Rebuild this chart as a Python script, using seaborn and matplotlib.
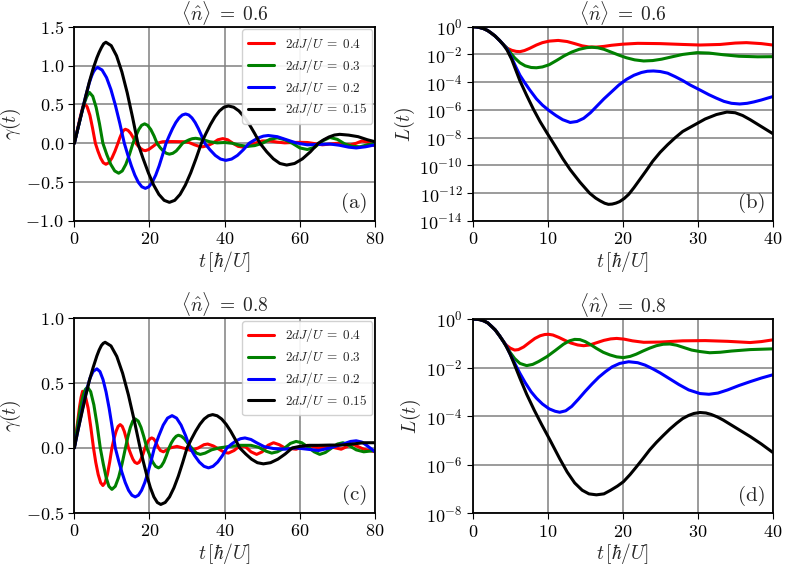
import matplotlib
matplotlib.use("Agg")
import matplotlib.pyplot as plt
import seaborn as sns
import numpy as np
import pandas as pd

# couplings 2dJ/U, same order as the curves below
couplings = ["0.4", "0.3", "0.2", "0.15"]
colors = ["red", "green", "blue", "black"]

# ---- panel (a): gamma(t), <n> = 0.6 ----
t_a_04 = [0, 0.7, 1.4, 2.0, 2.35, 2.7, 3.4, 4.15, 4.85, 5.6, 6.3, 7.0, 7.7, 8.4, 9.2, 10.0, 10.8, 11.6, 12.1, 12.6, 13.1, 13.6,
          14.3, 15.0, 15.7, 16.4, 17.0, 17.65, 18.3, 18.9, 19.8, 20.8, 22, 23.5, 26, 29, 30.5, 32, 33.2, 34.2, 35.5, 36.8,
          38.2, 39.5, 40.8, 42.2, 43.6, 45, 46.3, 48, 50, 52, 54, 56, 58, 60, 62, 64, 66, 68, 70, 72, 73.5, 75, 76.5, 78, 80]
g_a_04 = [0, 0.15, 0.3, 0.42, 0.48, 0.51, 0.47, 0.36, 0.195, 0, -0.103, -0.19, -0.25, -0.27, -0.25, -0.19, -0.103, 0, 0.069, 0.127, 0.166, 0.18,
          0.166, 0.127, 0.069, 0, -0.036, -0.067, -0.088, -0.095, -0.08, -0.045, 0.0, 0.02, 0.022, 0.02, 0.01, -0.02, -0.04, -0.045, -0.03, 0.0,
          0.045, 0.06, 0.045, 0.0, -0.04, -0.05, -0.035, 0.0, 0.03, 0.03, 0.015, 0.005, 0.01, 0.012, 0.01, -0.005, -0.02, -0.01, 0.0, -0.015, -0.02, 0.0, 0.03, 0.015, -0.035]
t_a_03 = [0, 1, 2, 2.7, 3.3, 4.0, 4.9, 5.8, 6.7, 7.6, 8.65, 9.7, 10.75, 11.8, 12.75, 13.7, 14.65, 15.6, 16.4, 17.15, 17.9, 18.7,
          19.5, 20.35, 21.2, 22, 22.8, 23.65, 24.5, 25.3, 26.2, 27.1, 27.9, 28.8, 29.7, 30.55, 31.4, 32.3, 34, 36, 38, 40, 42,
          44, 46, 48, 50, 52, 54, 56, 58, 60, 62, 64, 66, 68, 70, 72, 74, 76, 78, 80]
g_a_03 = [0, 0.2, 0.4, 0.52, 0.6, 0.655, 0.605, 0.463, 0.25, 0, -0.147, -0.272, -0.356, -0.385, -0.356, -0.272, -0.147, 0, 0.095, 0.177, 0.231, 0.25,
          0.231, 0.177, 0.095, 0, -0.054, -0.099, -0.129, -0.14, -0.129, -0.099, -0.054, 0, 0.025, 0.045, 0.059, 0.064, 0.05, 0.02, 0.005, 0.01, 0.0,
          -0.025, -0.04, -0.03, 0.0, 0.05, 0.07, 0.045, 0.0, -0.06, -0.08, -0.05, 0.03, 0.075, 0.05, -0.01, -0.04, -0.045, -0.02, 0.0]
t_a_02 = [0, 1, 2, 3, 4, 4.6, 5.1, 5.6, 6.2, 7.38, 8.57, 9.75, 10.93, 12.12, 13.3, 14.23, 15.17, 16.1, 17.03, 17.97, 18.9,
          19.82, 20.73, 21.65, 22.57, 23.48, 24.4, 25.27, 26.13, 27.0, 27.87, 28.73, 29.6, 30.45, 31.3, 32.15, 33.0, 33.85, 34.7,
          36.1, 37.5, 38.9, 40.3, 41.85, 43.4, 44.95, 46.5, 47.8, 49.05, 50.3, 51.6, 54, 56.5, 59, 62, 65, 68, 70.5, 73, 75, 77.5, 80]
g_a_02 = [0, 0.2, 0.4, 0.6, 0.78, 0.865, 0.92, 0.955, 0.976, 0.943, 0.845, 0.69, 0.488, 0.253, 0, -0.15, -0.29, -0.41, -0.502, -0.56, -0.58,
          -0.56, -0.502, -0.41, -0.29, -0.15, 0, 0.098, 0.189, 0.267, 0.326, 0.364, 0.377, 0.364, 0.326, 0.267, 0.189, 0.098, 0,
          -0.084, -0.156, -0.203, -0.22, -0.203, -0.156, -0.084, 0, 0.038, 0.071, 0.092, 0.1, 0.085, 0.045, 0.005, -0.02, -0.015, -0.01, -0.025,
          -0.05, -0.06, -0.045, -0.02]
t_a_015 = [0, 1, 2, 3, 4, 5, 6, 6.6, 7.2, 7.8, 8.4, 9.82, 11.23, 12.65, 14.07, 15.48, 16.9, 18.3, 19.7, 21.1, 22.5, 23.9, 25.3,
           26.72, 28.13, 29.55, 30.97, 32.38, 33.8, 35, 36.2, 37.4, 38.6, 39.8, 41, 42.4, 43.8, 45.2, 46.6, 48, 49.4,
           51.2, 52.95, 54.7, 56.5, 58.6, 60.7, 62.8, 64.9, 66.3, 67.75, 69.2, 70.6, 73, 75.5, 78, 80]
g_a_015 = [0, 0.2, 0.4, 0.6, 0.79, 0.96, 1.1, 1.17, 1.23, 1.28, 1.30, 1.256, 1.126, 0.919, 0.65, 0.337, 0, -0.197, -0.38, -0.537, -0.658, -0.734, -0.76,
           -0.734, -0.658, -0.537, -0.38, -0.197, 0, 0.124, 0.24, 0.339, 0.416, 0.464, 0.48, 0.464, 0.416, 0.339, 0.24, 0.124, 0,
           -0.11, -0.2, -0.26, -0.28, -0.26, -0.2, -0.11, 0, 0.044, 0.081, 0.106, 0.115, 0.105, 0.085, 0.045, 0.02]

# ---- panel (b): log10 L(t), <n> = 0.6 ----
t_b_04 = [0, 0.5, 1, 1.5, 2, 2.5, 3, 3.6, 4.1, 4.6, 5.2, 5.8, 6.3, 6.9, 7.6, 8.5, 9.3, 10.2, 11.4, 12.6, 13.6, 14.6, 15.5, 16.5,
          17.5, 18.5, 20, 22, 25, 28, 30.3, 33, 35, 36.5, 38.5, 40]
l_b_04 = [0, -0.02, -0.07, -0.15, -0.28, -0.47, -0.68, -1.0, -1.3, -1.55, -1.7, -1.78, -1.8, -1.72, -1.56, -1.32, -1.15, -1.04, -0.99, -1.07,
          -1.22, -1.38, -1.46, -1.47, -1.42, -1.34, -1.26, -1.2, -1.22, -1.28, -1.32, -1.28, -1.18, -1.15, -1.22, -1.32]
t_b_03 = [0, 0.5, 1, 1.5, 2, 2.5, 3, 3.6, 4.1, 4.5, 5.0, 5.6, 6.3, 7.0, 7.8, 8.5, 9.3, 10.2, 11.2, 12.2, 13.2, 14.2, 15.2, 15.9,
          16.7, 17.5, 18.5, 19.5, 20.5, 21.6, 22.8, 24, 25.2, 26.5, 28, 29.9, 31.5, 33.4, 35.5, 38, 40]
l_b_03 = [0, -0.02, -0.07, -0.15, -0.28, -0.47, -0.68, -1.0, -1.3, -1.5, -1.85, -2.25, -2.6, -2.82, -2.94, -2.96, -2.9, -2.74, -2.43, -2.1,
          -1.83, -1.63, -1.51, -1.48, -1.52, -1.63, -1.84, -2.05, -2.24, -2.39, -2.47, -2.44, -2.34, -2.18, -2.0, -1.87, -1.9, -2.02, -2.13, -2.17, -2.16]
t_b_02 = [0, 0.5, 1, 1.5, 2, 2.5, 3, 3.6, 4.1, 4.6, 5.2, 5.8, 6.3, 6.9, 7.6, 8.5, 9.3, 10.2, 11.1, 12, 13, 13.9, 14.8, 15.7, 16.6,
          17.5, 18.5, 19.5, 20.5, 21.5, 22.5, 23.3, 24.1, 25, 26, 27, 28, 29, 30.3, 31.5, 32.5, 33.5, 34.5, 35.6, 36.6, 37.5,
          38.5, 39.3, 40]
l_b_02 = [0, -0.02, -0.07, -0.15, -0.28, -0.47, -0.68, -1.0, -1.3, -1.62, -2.25, -2.95, -3.5, -4.0, -4.55, -5.2, -5.65, -6.05, -6.4, -6.7,
          -6.9, -6.83, -6.6, -6.2, -5.7, -5.2, -4.7, -4.2, -3.8, -3.5, -3.3, -3.21, -3.19, -3.23, -3.35, -3.6, -3.88, -4.2, -4.56, -4.9,
          -5.15, -5.38, -5.52, -5.57, -5.52, -5.42, -5.28, -5.15, -5.04]
t_b_015 = [0, 0.5, 1, 1.5, 2, 2.5, 3, 3.6, 4.1, 4.6, 5.2, 5.8, 6.3, 7.2, 8.1, 9, 9.9, 11, 12, 13, 14.3, 15.6, 16.4, 17, 17.6,
           18.1, 18.6, 19.1, 19.6, 20.2, 20.8, 21.5, 22.3, 23.1, 24, 25, 26, 27, 28, 29.5, 31, 32.5, 33.9, 35, 36, 37, 38.5, 40]
l_b_015 = [0, -0.02, -0.07, -0.15, -0.28, -0.47, -0.68, -1.0, -1.3, -1.7, -2.35, -3.2, -3.9, -4.95, -5.95, -6.85, -7.65, -8.6, -9.5, -10.3,
           -11.2, -12.0, -12.35, -12.55, -12.72, -12.8, -12.78, -12.71, -12.6, -12.38, -12.08, -11.6, -11.0, -10.4, -9.7, -9.05, -8.5,
           -8.0, -7.55, -7.1, -6.65, -6.33, -6.15, -6.2, -6.4, -6.7, -7.2, -7.7]

# ---- panel (c): gamma(t), <n> = 0.8 ----
t_c_04 = [0, 0.7, 1.4, 1.8, 2.2, 2.9, 3.65, 4.35, 5.1, 5.7, 6.35, 7.0, 7.6, 8.2, 8.8, 9.4, 10, 10.55, 11.1, 11.65, 12.2, 12.75,
          13.3, 13.85, 14.4, 15.0, 15.55, 16.1, 16.7, 17.25, 17.75, 18.3, 18.8, 19.25, 19.7, 20.15, 20.6, 21.1, 21.6, 22.2,
          22.9, 23.7, 24.6, 25.5, 27.3, 29.5, 31, 33, 34.5, 35.5, 37, 38.5, 40, 41, 42.5, 44, 45.5, 47, 48.5, 50, 51.5, 53,
          54.5, 56, 59, 62, 65, 68, 71, 74, 77, 80]
g_c_04 = [0, 0.16, 0.32, 0.39, 0.437, 0.404, 0.309, 0.167, 0, -0.111, -0.205, -0.268, -0.29, -0.268, -0.205, -0.111, 0, 0.069, 0.127, 0.166, 0.18, 0.166,
          0.127, 0.069, 0, -0.046, -0.085, -0.111, -0.12, -0.111, -0.085, -0.046, 0, 0.03, 0.055, 0.071, 0.077, 0.07, 0.05, 0.01,
          -0.02, -0.03, -0.015, 0.0, 0.012, -0.005, -0.02, 0.0, 0.025, 0.03, 0.015, -0.01, -0.035, -0.04, -0.02, 0.015, 0.01, -0.03, -0.05, -0.03, 0.02, 0.04,
          0.025, 0.0, -0.01, 0.02, 0.0, 0.01, -0.01, 0.03, -0.01, -0.03]
t_c_03 = [0, 0.8, 1.6, 2.4, 2.9, 3.5, 4.35, 5.2, 6.05, 6.9, 7.7, 8.45, 9.2, 10, 10.9, 11.8, 12.7, 13.6, 14.25, 14.9, 15.55, 16.2,
          17.0, 17.75, 18.5, 19.3, 20.1, 20.85, 21.6, 22.4, 23.1, 23.8, 24.5, 25.2, 25.8, 26.45, 27.1, 27.7, 28.5, 29.3, 30.6,
          31.5, 32.5, 33.5, 34.8, 36.5, 38.5, 41, 44, 47, 49, 51, 52.5, 54, 56, 57.5, 59, 60.5, 62, 63.8, 65.3, 66.8, 68.5,
          70, 71.5, 73, 75, 77, 78.5, 80]
g_c_03 = [0, 0.16, 0.31, 0.41, 0.45, 0.47, 0.434, 0.332, 0.18, 0, -0.123, -0.226, -0.296, -0.32, -0.296, -0.226, -0.123, 0, 0.086, 0.158, 0.207, 0.224,
          0.207, 0.158, 0.086, 0, -0.059, -0.109, -0.142, -0.154, -0.142, -0.109, -0.059, 0, 0.038, 0.069, 0.09, 0.098, 0.09, 0.07, 0.02,
          -0.01, -0.04, -0.05, -0.04, -0.015, 0.0, 0.01, 0.02, 0.02, 0.005, -0.025, -0.04, -0.03, 0.0, 0.035, 0.05, 0.04, 0.01, -0.03, -0.05, -0.035, 0.0,
          0.03, 0.04, 0.02, -0.015, -0.03, -0.025, -0.02]
t_c_02 = [0, 1, 2, 3, 3.5, 4.2, 5.0, 6.0, 6.82, 7.63, 8.45, 9.27, 10.08, 10.9, 11.78, 12.67, 13.55, 14.43, 15.32, 16.2, 17.05,
          17.9, 18.75, 19.6, 20.45, 21.3, 22.5, 23.65, 24.8, 26, 27.2, 28.4, 29.6, 30.8, 32, 33.25, 34.5, 35.7, 36.9, 38.15,
          39.4, 40.6, 41.8, 43, 44.2, 45.4, 47, 48.5, 50.5, 53, 56, 59, 62, 65, 68, 71.5, 73.5, 75, 76.5, 78, 80]
g_c_02 = [0, 0.14, 0.28, 0.41, 0.47, 0.54, 0.59, 0.61, 0.589, 0.528, 0.431, 0.305, 0.158, 0, -0.098, -0.189, -0.267, -0.327, -0.365, -0.378, -0.365,
          -0.327, -0.267, -0.189, -0.098, 0, 0.095, 0.176, 0.23, 0.249, 0.23, 0.176, 0.095, 0, -0.059, -0.109, -0.142, -0.154, -0.142, -0.109,
          -0.059, 0, 0.029, 0.054, 0.071, 0.077, 0.065, 0.04, 0.01, -0.005, -0.01, 0.0, -0.01, -0.02, 0.0, 0.03, 0.05, 0.055, 0.045, 0.015, -0.03]
t_c_015 = [0, 1, 2, 3, 4, 5, 6, 6.6, 7.2, 7.7, 8.2, 9.75, 11.3, 12.85, 14.4, 15.95, 17.5, 18.42, 19.33, 20.25, 21.17, 22.08, 23,
           24.17, 25.33, 26.5, 27.67, 28.83, 30, 31.13, 32.27, 33.4, 34.53, 35.67, 36.8, 38, 39.2, 40.4, 41.6, 42.8, 44,
           45.6, 47.15, 48.7, 50.3, 52.2, 54.15, 56.1, 58, 60, 62.5, 65, 68, 71, 74, 77, 80]
g_c_015 = [0, 0.14, 0.27, 0.4, 0.52, 0.62, 0.71, 0.755, 0.79, 0.807, 0.815, 0.787, 0.706, 0.576, 0.408, 0.211, 0, -0.113, -0.218, -0.308, -0.378, -0.421, -0.436,
           -0.421, -0.378, -0.308, -0.218, -0.113, 0, 0.067, 0.129, 0.182, 0.223, 0.248, 0.257, 0.248, 0.223, 0.182, 0.129, 0.067, 0,
           -0.047, -0.087, -0.114, -0.123, -0.114, -0.087, -0.047, 0, 0.012, 0.02, 0.02, 0.022, 0.022, 0.03, 0.04, 0.04]

# ---- panel (d): log10 L(t), <n> = 0.8 ----
t_d_04 = [0, 0.5, 1, 1.5, 2, 2.5, 3, 3.6, 4.1, 4.5, 5.0, 5.6, 6.1, 6.8, 7.6, 8.3, 9.0, 9.6, 10.1, 10.7, 11.5, 12.3, 13.1, 14,
          14.8, 15.6, 16.5, 17.5, 18.4, 19.2, 20.2, 21.3, 22.8, 25, 28, 31, 34, 37, 38.5, 40]
l_d_04 = [0, -0.01, -0.03, -0.08, -0.16, -0.3, -0.45, -0.7, -0.93, -1.08, -1.2, -1.28, -1.26, -1.15, -0.96, -0.8, -0.69, -0.64, -0.63, -0.66,
          -0.76, -0.88, -0.99, -1.07, -1.1, -1.07, -0.98, -0.88, -0.82, -0.8, -0.83, -0.9, -0.96, -0.95, -0.9, -0.89, -0.92, -0.97, -0.93, -0.86]
t_d_03 = [0, 0.5, 1, 1.5, 2, 2.5, 3, 3.6, 4.1, 4.5, 5.0, 5.6, 6.3, 7.2, 8.0, 8.8, 9.9, 11, 12.1, 12.9, 13.6, 14.3, 15, 15.8, 16.5,
          17.4, 18.3, 19.2, 20.1, 21, 21.8, 22.7, 23.6, 24.5, 25.4, 26.3, 27.2, 28.2, 29.2, 30.3, 31.6, 33, 34.5, 37, 40]
l_d_03 = [0, -0.01, -0.03, -0.08, -0.16, -0.3, -0.45, -0.7, -0.93, -1.12, -1.38, -1.63, -1.83, -1.92, -1.87, -1.75, -1.55, -1.3, -1.04, -0.9,
          -0.84, -0.85, -0.93, -1.07, -1.21, -1.37, -1.48, -1.56, -1.59, -1.54, -1.45, -1.32, -1.2, -1.1, -1.04, -1.03, -1.08, -1.18, -1.28,
          -1.34, -1.39, -1.37, -1.32, -1.26, -1.23]
t_d_02 = [0, 0.5, 1, 1.5, 2, 2.5, 3, 3.6, 4.1, 4.5, 5.0, 5.6, 6.3, 7.0, 7.8, 8.5, 9.3, 10.2, 11.0, 11.6, 12.4, 13.2, 14.1, 15,
          15.9, 16.8, 17.7, 18.6, 19.6, 20.8, 22, 23, 24, 25, 26.2, 27.5, 28.8, 30.3, 31.5, 32.7, 34, 35.5, 37, 38.5, 40]
l_d_02 = [0, -0.01, -0.03, -0.08, -0.16, -0.3, -0.45, -0.7, -0.93, -1.12, -1.45, -1.82, -2.24, -2.62, -3.0, -3.26, -3.5, -3.7, -3.8, -3.84,
          -3.78, -3.6, -3.3, -2.98, -2.68, -2.4, -2.17, -1.97, -1.83, -1.76, -1.8, -1.9, -2.05, -2.22, -2.45, -2.7, -2.92, -3.07, -3.1,
          -3.05, -2.92, -2.74, -2.58, -2.43, -2.3]
t_d_015 = [0, 0.5, 1, 1.5, 2, 2.5, 3, 3.6, 4.1, 4.5, 5.0, 5.6, 6.3, 7.2, 8.2, 9.2, 10.3, 11.6, 12.6, 13.6, 14.6, 15.5, 16.5, 17.5,
           18.4, 19.3, 20.1, 21, 21.8, 22.7, 23.6, 24.5, 25.4, 26.3, 27.2, 28, 28.8, 29.5, 30.3, 31.1, 31.8, 32.6, 33.4, 34.3,
           35.2, 36.1, 37, 38.5, 40]
l_d_015 = [0, -0.01, -0.03, -0.08, -0.16, -0.3, -0.45, -0.7, -0.93, -1.15, -1.45, -1.9, -2.44, -3.1, -3.75, -4.35, -4.98, -5.75, -6.3, -6.75,
           -7.05, -7.2, -7.24, -7.2, -7.05, -6.88, -6.7, -6.4, -6.1, -5.75, -5.39, -5.08, -4.8, -4.53, -4.29, -4.1, -3.97, -3.89, -3.85,
           -3.87, -3.93, -4.03, -4.16, -4.33, -4.5, -4.67, -4.84, -5.15, -5.49]

sns.set_style("whitegrid")
plt.rcParams.update({
    "font.family": ["cmr10", "DejaVu Serif"],
    "mathtext.fontset": "cm",
    "axes.formatter.use_mathtext": True,
    "axes.edgecolor": "black",
    "axes.linewidth": 1.3,
    "grid.color": "#808080",
    "grid.linewidth": 1.1,
    "xtick.bottom": True,
    "ytick.left": True,
    "xtick.direction": "out",
    "ytick.direction": "out",
    "xtick.major.size": 4,
    "ytick.major.size": 4,
    "xtick.color": "black",
    "ytick.color": "black",
    "xtick.labelsize": 13,
    "ytick.labelsize": 13,
    "lines.solid_joinstyle": "round",
})


def curves_frame(ts, vs, log=False):
    rows = []
    for lab, t, v in zip(couplings, ts, vs):
        y = np.power(10.0, v) if log else np.array(v)
        rows.append(pd.DataFrame({"t": t, "y": y, "lab": r"$2dJ/U\;=\;" + lab + "$"}))
    return pd.concat(rows, ignore_index=True)


fig = plt.figure(figsize=(7.89, 5.69), dpi=100)
ax_a = fig.add_axes([0.0942, 0.6116, 0.3811, 0.3415])
ax_b = fig.add_axes([0.5991, 0.6116, 0.3802, 0.3415])
ax_c = fig.add_axes([0.0942, 0.0989, 0.3811, 0.3417])
ax_d = fig.add_axes([0.5991, 0.0979, 0.3802, 0.3415])

panels = [
    (ax_a, [t_a_04, t_a_03, t_a_02, t_a_015], [g_a_04, g_a_03, g_a_02, g_a_015], False, "0.6", "(a)"),
    (ax_b, [t_b_04, t_b_03, t_b_02, t_b_015], [l_b_04, l_b_03, l_b_02, l_b_015], True, "0.6", "(b)"),
    (ax_c, [t_c_04, t_c_03, t_c_02, t_c_015], [g_c_04, g_c_03, g_c_02, g_c_015], False, "0.8", "(c)"),
    (ax_d, [t_d_04, t_d_03, t_d_02, t_d_015], [l_d_04, l_d_03, l_d_02, l_d_015], True, "0.8", "(d)"),
]

for ax, ts, vs, log, dens, tag in panels:
    df = curves_frame(ts, vs, log)
    if log:
        ax.set_yscale("log")
    sns.lineplot(data=df, x="t", y="y", hue="lab", palette=colors, linewidth=2.2,
                 legend=not log, ax=ax)
    ax.set_title(r"$\langle \hat{n} \rangle\;=\;" + dens + "$", fontsize=14, pad=3)
    ax.set_xlabel(r"$t\,[\hbar/U]$", fontsize=14, labelpad=1)
    ax.text(0.975, 0.04, tag, transform=ax.transAxes, ha="right", va="bottom", fontsize=15)
    for s in ax.spines.values():
        s.set_color("black")
    if log:
        ax.set_xlim(0, 40)
        ax.set_xticks([0, 10, 20, 30, 40])
        ax.set_ylabel(r"$L(t)$", fontsize=14, labelpad=2)
    else:
        ax.set_xlim(0, 80)
        ax.set_xticks([0, 20, 40, 60, 80])
        ax.set_ylabel(r"$\gamma(t)$", fontsize=14, labelpad=2)
        ax.legend(loc="upper right", fontsize=9.5, framealpha=0.9, edgecolor="#cccccc",
                  borderaxespad=0.2, handlelength=2.0, labelspacing=0.3)

ax_a.set_ylim(-1.0, 1.5)
ax_a.set_yticks([-1.0, -0.5, 0.0, 0.5, 1.0, 1.5])
ax_c.set_ylim(-0.5, 1.0)
ax_c.set_yticks([-0.5, 0.0, 0.5, 1.0])
ax_b.set_ylim(1e-14, 1)
ax_b.set_yticks([10.0 ** k for k in range(-14, 1, 2)])
ax_d.set_ylim(1e-8, 1)
ax_d.set_yticks([10.0 ** k for k in range(-8, 1, 2)])
for ax in (ax_b, ax_d):
    ax.minorticks_off()

fig.savefig("out.png", dpi=100)
